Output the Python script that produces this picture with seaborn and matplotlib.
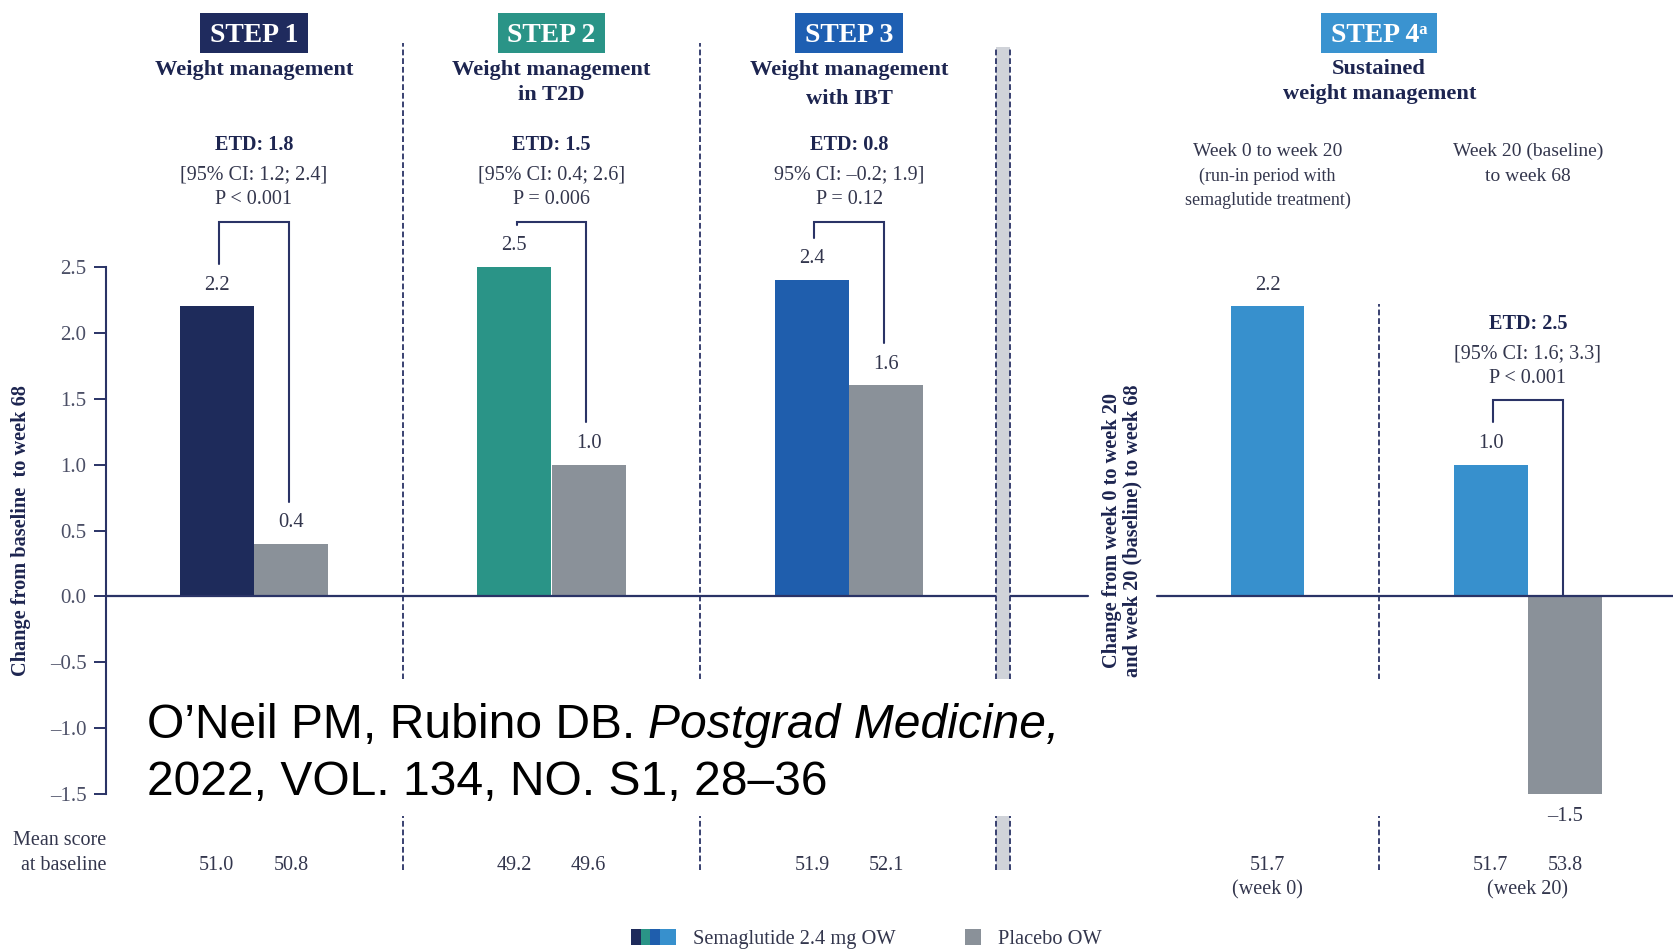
import numpy as np
import pandas as pd
import matplotlib
matplotlib.use("Agg")
import matplotlib.pyplot as plt
from matplotlib.patches import Rectangle, Patch
from matplotlib.legend_handler import HandlerTuple, HandlerPatch
import seaborn as sns

# ---------------- data ----------------
trials = ["STEP 1", "STEP 2", "STEP 3", "STEP 4ᵃ"]
subtitles = [["Weight management"],
             ["Weight management", "in T2D"],
             ["Weight management", "with IBT"],
             ["Sustained", "weight management"]]
sema_change = [2.2, 2.5, 2.4, 1.0]
placebo_change = [0.4, 1.0, 1.6, -1.5]
runin_change = [2.2]
etd_labels = ["ETD: 1.8", "ETD: 1.5", "ETD: 0.8", "ETD: 2.5"]
ci_labels = ["[95% CI: 1.2; 2.4]", "[95% CI: 0.4; 2.6]",
             "95% CI: –0.2; 1.9]", "[95% CI: 1.6; 3.3]"]
p_labels = ["P < 0.001", "P = 0.006", "P = 0.12", "P < 0.001"]
sema_baseline = ["51.0", "49.2", "51.9", "51.7"]
placebo_baseline = ["50.8", "49.6", "52.1", "53.8"]
runin_baseline = ["51.7"]
y_ticks = [2.5, 2.0, 1.5, 1.0, 0.5, 0.0, -0.5, -1.0, -1.5]
legend_labels = ["Semaglutide 2.4 mg OW", "Placebo OW"]

# ---------------- layout & style ----------------
sema_pos = [0, 4, 8, 17.125]
placebo_pos = [p + 1 for p in sema_pos]
runin_pos = [14.125]
step4_center = (runin_pos[0] + sema_pos[3]) / 2

sema_colors = ["#1e2b5b", "#2a9487", "#1f5ead", "#3790cd"]
placebo_color = "#8a9199"
navy = "#1d2550"
line_navy = "#2a3366"
text_col = "#33364d"
tick_col = "#4b4f66"

XLIM = (-2.9126, 19.574)
YLIM = (-2.6725, 4.5224)
SPINE_X = -1.493
SEP_TOP, SEP_BOTTOM = 4.199, -2.07
DASH = (0, (3.2, 1.6))


def fmt(v):
    return f"{v:.1f}".replace("-", "–")


sns.set_theme(style="white")
plt.rcParams["font.family"] = ["Liberation Serif", "DejaVu Serif", "DejaVu Sans"]

fig = plt.figure(figsize=(16.73, 9.49), dpi=100)
fig.patch.set_facecolor("white")
ax = fig.add_axes([0, 0, 1, 1])
ax.set_facecolor("white")

# ---------------- bars ----------------
rows = []
for i in range(4):
    rows.append((sema_pos[i], sema_change[i], f"sema{i}"))
    rows.append((placebo_pos[i], placebo_change[i], "placebo"))
rows.append((runin_pos[0], runin_change[0], "sema3"))
bars = pd.DataFrame(rows, columns=["pos", "value", "arm"])
palette = {f"sema{i}": c for i, c in enumerate(sema_colors)}
palette["placebo"] = placebo_color

sns.barplot(data=bars, x="pos", y="value", hue="arm", palette=palette,
            native_scale=True, width=0.99, dodge=False, saturation=1,
            errorbar=None, legend=False, ax=ax, zorder=2, linewidth=0)

ax.set_xlim(*XLIM)
ax.set_ylim(*YLIM)
ax.set_xlabel("")
ax.set_ylabel("")
ax.set_xticks([])
ax.grid(False)

# y axis bracket on the left
for s in ["top", "right", "bottom"]:
    ax.spines[s].set_visible(False)
ax.spines["left"].set_position(("data", SPINE_X))
ax.spines["left"].set_bounds(-1.5, 2.5)
ax.spines["left"].set_color(line_navy)
ax.spines["left"].set_linewidth(1.5)
ax.set_yticks(y_ticks)
ax.set_yticklabels([fmt(t) for t in y_ticks])
ax.tick_params(axis="y", left=True, direction="out", length=8.8, width=1.4,
               color=line_navy, pad=5, labelsize=15, labelcolor=tick_col)

ax.text(-2.626, 0.5, "Change from baseline  to week 68", rotation=90,
        ha="center", va="center", fontsize=14.6, weight="bold", color=navy)
ax.text(12.17, 0.5, "Change from week 0 to week 20\nand week 20 (baseline) to week 68",
        rotation=90, ha="center", va="center", fontsize=14.6, weight="bold",
        color=navy, linespacing=1.05, zorder=4)

# zero line, interrupted by the second axis title
ax.plot([SPINE_X, 11.71], [0, 0], color=line_navy, lw=1.6, zorder=3)
ax.plot([12.64, XLIM[1]], [0, 0], color=line_navy, lw=1.6, zorder=3)

# panel separators
for x in [2.5, 6.5]:
    ax.plot([x, x], [SEP_BOTTOM, SEP_TOP], ls=DASH, color=line_navy, lw=1.3, zorder=3)
ax.fill_betweenx([SEP_BOTTOM, 4.167], 10.47, 10.66, color="#d0d3d9", lw=0, zorder=3)
for x in [10.47, 10.66]:
    ax.plot([x, x], [SEP_BOTTOM, 4.167], ls=DASH, color=line_navy, lw=1.3, zorder=3)
ax.plot([step4_center, step4_center], [SEP_BOTTOM, 2.217], ls=DASH,
        color=line_navy, lw=1.3, zorder=3)

# value labels
for pos, v in zip(sema_pos + placebo_pos + runin_pos,
                  sema_change + placebo_change + runin_change):
    y = v + 0.16 if v >= 0 else v - 0.17
    ax.text(pos, y, fmt(v), ha="center", va="center", fontsize=14.8, color=text_col)

# significance brackets
bracket_tops = [2.84, 2.84, 2.84, 1.49]
for i in range(4):
    xl, xr = sema_pos[i] + 0.03, placebo_pos[i] - 0.03
    yl = sema_change[i] + 0.32
    yr = placebo_change[i] + 0.32 if placebo_change[i] > 0 else 0
    top = bracket_tops[i]
    ax.plot([xl, xl, xr, xr], [yl, top, top, yr], color=line_navy, lw=1.5,
            solid_joinstyle="miter", zorder=3)

# ETD annotations
etd_x = [sema_pos[0] + 0.5, sema_pos[1] + 0.5, sema_pos[2] + 0.5, sema_pos[3] + 0.5]
etd_y = [(3.422, 3.196, 3.009)] * 3 + [(2.063, 1.837, 1.651)]
for i in range(4):
    y1, y2, y3 = etd_y[i]
    ax.text(etd_x[i], y1, etd_labels[i], ha="center", va="center", fontsize=14.6,
            weight="bold", color=navy)
    ax.text(etd_x[i], y2, ci_labels[i], ha="center", va="center", fontsize=14.5,
            color=text_col)
    ax.text(etd_x[i], y3, p_labels[i], ha="center", va="center", fontsize=14.5,
            color=text_col)

# panel titles
head_x = [sema_pos[0] + 0.5, sema_pos[1] + 0.5, sema_pos[2] + 0.5, step4_center]
head_colors = ["#1f2b5e", "#2a9487", "#1e5fb2", "#3a93d0"]
sub_y = [[3.99], [3.99, 3.80], [3.99, 3.775], [4.0, 3.81]]
head_texts = []
for i in range(4):
    t = ax.text(head_x[i], 4.206, trials[i], ha="center", va="baseline",
                fontsize=20, weight="bold", color="white", zorder=5)
    head_texts.append(t)
    for j, line in enumerate(subtitles[i]):
        ax.text(head_x[i], sub_y[i][j], line, ha="center", va="center",
                fontsize=16.2, weight="bold", color=navy)

# STEP 4 period descriptions
ax.text(runin_pos[0], 3.374, "Week 0 to week 20", ha="center", va="center",
        fontsize=14, color=text_col)
ax.text(runin_pos[0], 3.188, "(run-in period with", ha="center", va="center",
        fontsize=13, color=text_col)
ax.text(runin_pos[0], 3.001, "semaglutide treatment)", ha="center", va="center",
        fontsize=13, color=text_col)
ax.text(sema_pos[3] + 0.5, 3.374, "Week 20 (baseline)", ha="center", va="center",
        fontsize=14, color=text_col)
ax.text(sema_pos[3] + 0.5, 3.188, "to week 68", ha="center", va="center",
        fontsize=14, color=text_col)

# baseline scores
ax.text(SPINE_X + 0.015, -1.852, "Mean score", ha="right", va="center",
        fontsize=14.5, color=text_col)
ax.text(SPINE_X + 0.015, -2.038, "at baseline", ha="right", va="center",
        fontsize=14.5, color=text_col)
for pos, s in zip(sema_pos + placebo_pos + runin_pos,
                  sema_baseline + placebo_baseline + runin_baseline):
    ax.text(pos, -2.038, s, ha="center", va="center", fontsize=14.5, color=text_col)
ax.text(runin_pos[0], -2.224, "(week 0)", ha="center", va="center",
        fontsize=14.5, color=text_col)
ax.text(sema_pos[3] + 0.5, -2.224, "(week 20)", ha="center", va="center",
        fontsize=14.5, color=text_col)

# citation on a white panel
ax.add_patch(Rectangle((-1.30, -1.664), 17.02, 1.039, facecolor="white",
                       edgecolor="none", zorder=6))
cite1 = ax.text(-0.941, -1.076, "O’Neil PM, Rubino DB.", fontsize=34.6,
                family="Liberation Sans", color="black", va="baseline", zorder=7)
ax.annotate("Postgrad Medicine,", xy=(1, 0), xycoords=cite1, xytext=(9.6, 0),
            textcoords="offset points", ha="left", va="bottom", fontsize=34.6,
            family="Liberation Sans", style="italic", color="black", zorder=7)
ax.text(-0.941, -1.505, "2022, VOL. 134, NO. S1, 28–36", fontsize=34.6,
        family="Liberation Sans", color="black", va="baseline", zorder=7)

# legend
class SquareAtRight(HandlerPatch):
    def create_artists(self, legend, orig_handle, xdescent, ydescent, width,
                       height, fontsize, trans):
        p = Rectangle((-xdescent + width - height, -ydescent), height, height,
                      facecolor=orig_handle.get_facecolor(), edgecolor="none",
                      transform=trans)
        return [p]


sema_handle = tuple(Patch(facecolor=c, edgecolor="none") for c in sema_colors)
plac_handle = Patch(facecolor=placebo_color, edgecolor="none")
leg = ax.legend([sema_handle, plac_handle], legend_labels, ncol=2,
                loc="center", bbox_to_anchor=(0.5198, 0.0105),
                bbox_transform=fig.transFigure, frameon=False,
                fontsize=14.7, handlelength=1.9, handleheight=0.83,
                handletextpad=0.83, columnspacing=2.3, borderpad=0,
                handler_map={tuple: HandlerTuple(ndivide=None, pad=0),
                             Patch: SquareAtRight()})
for t in leg.get_texts():
    t.set_color(text_col)

# boxes behind the trial names, sized to each label
fig.canvas.draw()
renderer = fig.canvas.get_renderer()
inv = ax.transData.inverted()
for t, c in zip(head_texts, head_colors):
    bb = t.get_window_extent(renderer)
    x0 = inv.transform((bb.x0 - 9.5, 0))[0]
    x1 = inv.transform((bb.x1 + 9.5, 0))[0]
    ax.add_patch(Rectangle((x0, 4.274 - 0.153), x1 - x0, 0.306,
                           facecolor=c, edgecolor="none", zorder=4))

fig.savefig("out.png", dpi=100, facecolor="white")
